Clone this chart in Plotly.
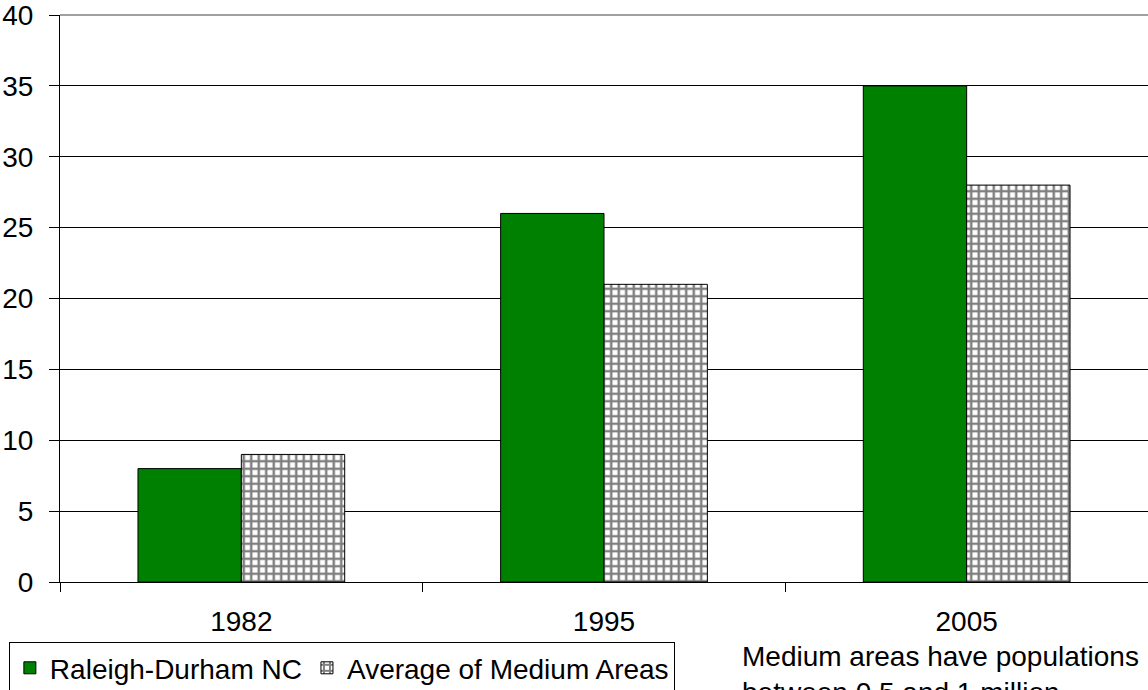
import plotly.graph_objects as go

categories = ["1982", "1995", "2005"]
raleigh = [8, 26, 35]
medium = [9, 21, 28]
series_names = ["Raleigh-Durham NC", "Average of Medium Areas"]
note = "Medium areas have populations<br>between 0.5 and 1 million"

FONT = "Liberation Sans, Arial, sans-serif"
FS = 28

fig = go.Figure()
fig.add_trace(go.Bar(
    x=categories, y=raleigh, name=series_names[0],
    marker=dict(color="#008000", line=dict(color="black", width=1)),
))
fig.add_trace(go.Bar(
    x=categories, y=medium, name=series_names[1],
    marker=dict(color="white", line=dict(color="black", width=1),
                pattern=dict(shape="+", fgcolor="black", bgcolor="white",
                             size=7.5, solidity=0.55, fillmode="overlay")),
))

fig.update_layout(
    width=1148, height=690,
    margin=dict(l=60, r=0, t=15, b=108, autoexpand=False),
    paper_bgcolor="white", plot_bgcolor="white",
    barmode="group", bargap=0.43, bargroupgap=0,
    font=dict(family=FONT, size=FS, color="black"),
    showlegend=True,
    legend=dict(orientation="h", x=-0.047, xanchor="left", y=-0.106, yanchor="top",
                bordercolor="black", borderwidth=1, bgcolor="white",
                font=dict(family=FONT, size=FS, color="black"),
                itemwidth=30, tracegroupgap=0),
    annotations=[dict(text=note, xref="paper", yref="paper", x=0.625, y=-0.1,
                      xanchor="left", yanchor="top", showarrow=False, align="left",
                      font=dict(family=FONT, size=FS, color="black"))],
    shapes=[dict(type="line", xref="paper", yref="paper", x0=0, x1=1, y0=1, y1=1,
                 line=dict(color="#808080", width=1.5), layer="above")],
)
fig.update_xaxes(type="category", showline=True, linecolor="black", linewidth=1,
                 ticks="outside", tickson="boundaries", ticklen=9, tickcolor="black",
                 showgrid=False, automargin=False, ticklabelstandoff=14,
                 tickfont=dict(family=FONT, size=FS, color="black"))
fig.update_yaxes(range=[0, 40], dtick=5, showline=True, linecolor="black", linewidth=1,
                 ticks="outside", ticklen=10, tickcolor="black", automargin=False,
                 ticklabelstandoff=10, ticklabeloverflow="allow",
                 showgrid=True, gridcolor="black", gridwidth=1, zeroline=False,
                 tickfont=dict(family=FONT, size=FS, color="black"))

fig.write_html("out.html", config={"displayModeBar": False},
               post_script="document.body.style.margin='0';document.body.style.overflow='hidden';")
